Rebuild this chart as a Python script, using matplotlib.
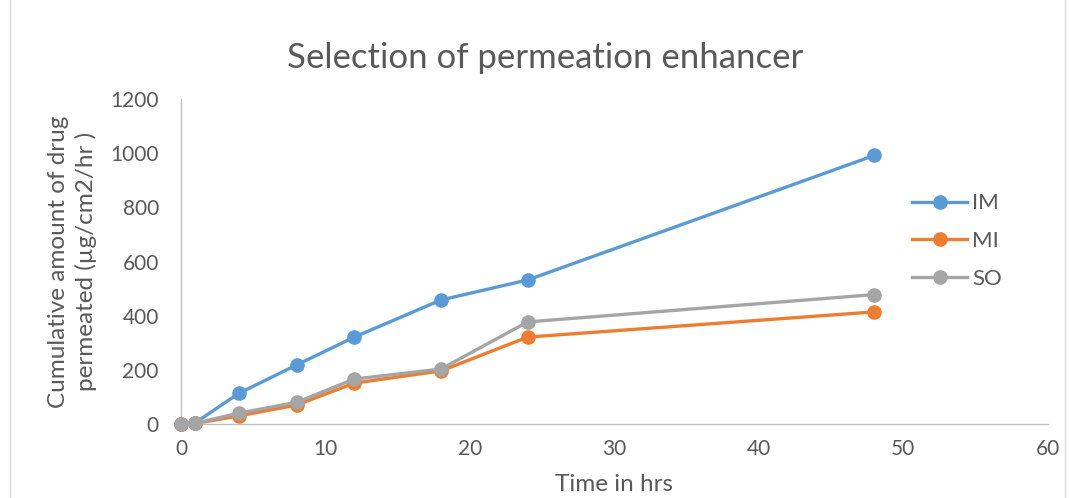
import matplotlib
matplotlib.use("Agg")
import matplotlib.pyplot as plt
from matplotlib.patches import Rectangle

time_hrs = [0, 1, 4, 8, 12, 18, 24, 48]
series_names = ["IM", "MI", "SO"]
im_values = [0, 5, 113, 218, 321, 458, 532, 992]
mi_values = [0, 2, 30, 70, 151, 196, 321, 414]
so_values = [0, 3, 40, 80, 166, 203, 377, 478]
colors = ["#5B9BD5", "#ED7D31", "#A5A5A5"]
x_ticks = [0, 10, 20, 30, 40, 50, 60]
y_ticks = [0, 200, 400, 600, 800, 1000, 1200]

plt.rcParams['font.family'] = ['Lato', 'DejaVu Sans']
text_color = "#595959"

fig = plt.figure(figsize=(10.69, 4.98), dpi=100)
fig.add_artist(Rectangle((0.009, -0.01), 0.987, 1.03, transform=fig.transFigure,
                         fill=False, edgecolor="#D9D9D9", linewidth=1))
ax = fig.add_axes([0.1693, 0.1486, 0.8107, 0.6524])

for name, vals, c in zip(series_names, [im_values, mi_values, so_values], colors):
    ax.plot(time_hrs, vals, color=c, linewidth=2.4, marker='o', markersize=9.5,
            label=name, clip_on=False, zorder=3)

ax.set_xlim(0, 60)
ax.set_ylim(0, 1200)
ax.set_xticks(x_ticks)
ax.set_yticks(y_ticks)
ax.tick_params(length=0, labelsize=15, labelcolor=text_color)
ax.tick_params(axis='y', pad=16)
ax.tick_params(axis='x', pad=11)
for s in ["top", "right"]:
    ax.spines[s].set_visible(False)
for s in ["left", "bottom"]:
    ax.spines[s].set_color("#BFBFBF")
    ax.spines[s].set_linewidth(1)

fig.text(0.51, 0.884, "Selection of permeation enhancer", fontsize=25,
         color=text_color, ha='center', va='center')
ax.set_xlabel("Time in hrs", fontsize=17.5, color=text_color)
ax.xaxis.set_label_coords(0.5, -0.155)
ax.set_ylabel("Cumulative amount of drug\npermeated (\u00b5g/cm2/hr )", fontsize=17.5,
              color=text_color, linespacing=1.3)
ax.yaxis.set_label_coords(-0.097, 0.5)

leg = ax.legend(loc='center left', bbox_to_anchor=(0.821, 0.563), frameon=False,
                fontsize=16, labelcolor=text_color, handlelength=2.45, labelspacing=0.8,
                handletextpad=0.25)

fig.savefig("out.png", dpi=100)
